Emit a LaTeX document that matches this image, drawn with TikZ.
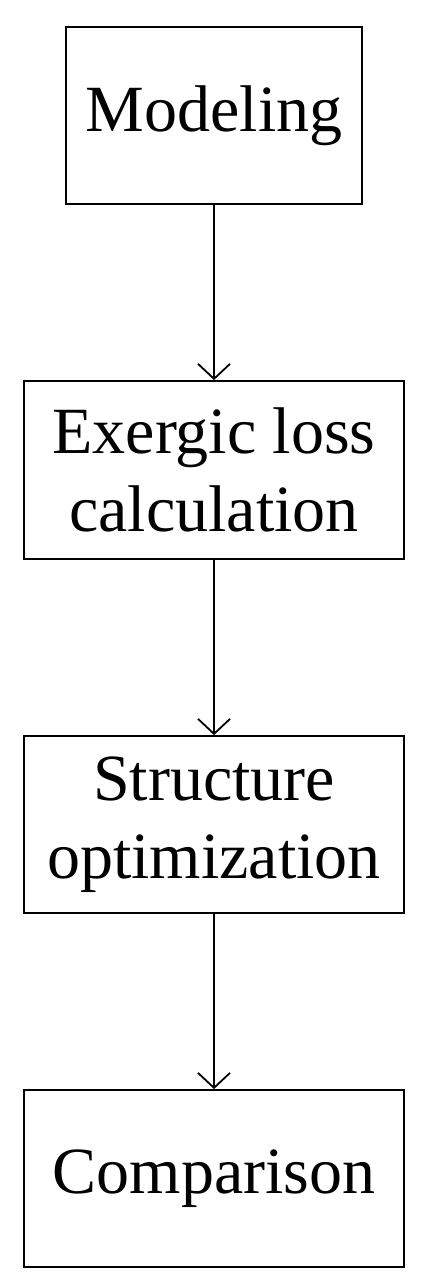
\documentclass[tikz,border=0pt]{standalone}
\usepackage{fontspec}
\setmainfont{Liberation Serif}
\usetikzlibrary{arrows.meta}
\begin{document}
\begin{tikzpicture}[x=1bp,y=-1bp,
  stepbox/.style={draw=black, line width=1.8bp, rectangle, inner sep=0pt,
    align=center, font=\fontsize{66bp}{78bp}\selectfont},
  flow/.style={draw=black, line width=1.8bp,
    -{Straight Barb[length=15bp,width=32bp,line width=1.8bp]}}]
\useasboundingbox (0,0) rectangle (429,1288);
\node[stepbox, minimum width=296bp, minimum height=177bp] (m) at (214,115.5) {Modeling};
\node[stepbox, minimum width=380bp, minimum height=178bp] (e) at (214,470) {Exergic loss\\calculation};
\node[stepbox, minimum width=380bp, minimum height=177bp] (s) at (214,824.5) {Structure\\optimization};
\node[stepbox, minimum width=380bp, minimum height=177bp] (c) at (214,1178.5) {Comparison};
\draw[flow] (m) -- (e);
\draw[flow] (e) -- (s);
\draw[flow] (s) -- (c);
\end{tikzpicture}
\end{document}
